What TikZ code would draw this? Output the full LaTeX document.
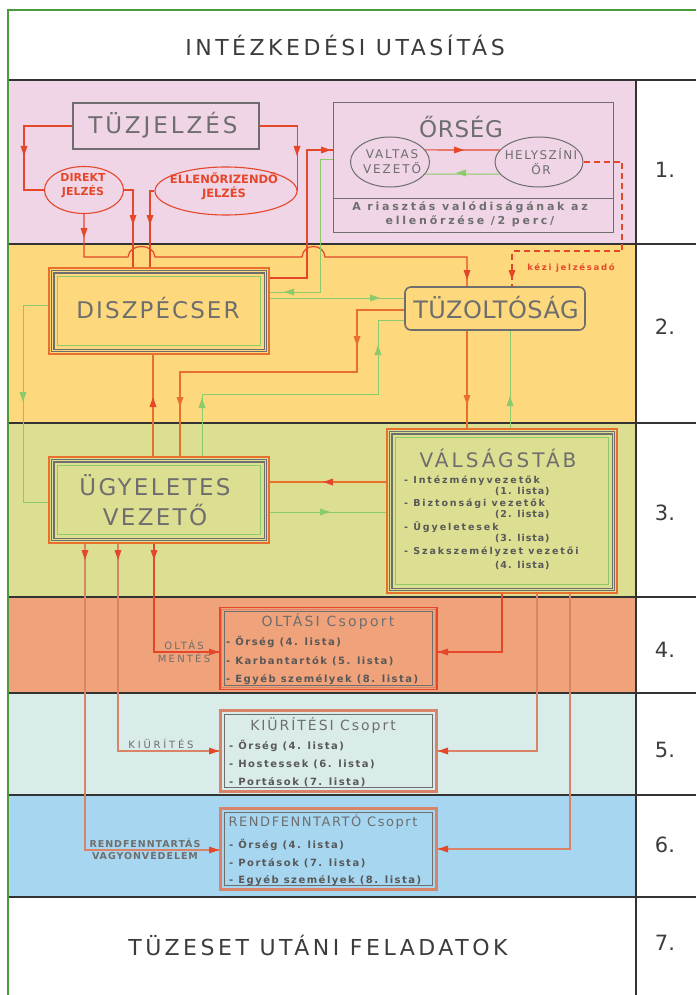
\documentclass[tikz,border=0pt]{standalone}
\usepackage{fontspec}
\setmainfont{DejaVu Sans}
\newfontfamily\cad{DejaVu Sans}
\usetikzlibrary{shapes.geometric}
\definecolor{pinkband}{HTML}{EFD5E6}
\definecolor{yelband}{HTML}{FDD87C}
\definecolor{oliveband}{HTML}{DCDE92}
\definecolor{orband}{HTML}{F0A27A}
\definecolor{cyband}{HTML}{D9ECEA}
\definecolor{blband}{HTML}{A6D6F0}
\definecolor{cadgray}{HTML}{6E6E6E}
\definecolor{hdrgray}{HTML}{3C3C3C}
\definecolor{lred}{HTML}{E5472B}
\definecolor{lorange}{HTML}{E8702C}
\definecolor{lgreen}{HTML}{8CCB6C}
\definecolor{lbrown}{HTML}{D98468}
\definecolor{framegreen}{HTML}{4C9A3C}
\definecolor{bandline}{HTML}{333333}
\newcommand\fsz[2]{\fontsize{#1}{#2}\selectfont}
\newcommand\ls[1]{\addfontfeatures{LetterSpace=#1}}
\newcommand\aD[3]{\fill[#1] (#2,#3) -- +(-3.5,-10) -- +(3.5,-10) -- cycle;}
\newcommand\aU[3]{\fill[#1] (#2,#3) -- +(-3.5,10) -- +(3.5,10) -- cycle;}
\newcommand\aR[3]{\fill[#1] (#2,#3) -- +(-10,-3.5) -- +(-10,3.5) -- cycle;}
\newcommand\aL[3]{\fill[#1] (#2,#3) -- +(10,-3.5) -- +(10,3.5) -- cycle;}
\newcommand\inset[3]{\draw[#3] ([shift={(#2,#2)}]#1.north west) rectangle ([shift={(-#2,-#2)}]#1.south east);}
\newcommand\tribox[1]{\inset{#1}{3}{draw=cadgray,line width=1.2}\inset{#1}{5.5}{draw=cadgray,line width=1.2}\inset{#1}{9.5}{draw=lgreen,line width=1}}
\newcommand\grpbox[1]{\inset{#1}{2.5}{draw=lbrown,line width=0.8}\inset{#1}{5}{draw=cadgray,line width=1}}
\begin{document}
\begin{tikzpicture}[x=1pt,y=-1pt,
  redl/.style={draw=lred,line width=1.2},
  orl/.style={draw=lorange,line width=1.2},
  grl/.style={draw=lgreen,line width=1},
  brl/.style={draw=lbrown,line width=1.1},
  cadt/.style={text=cadgray,inner sep=0},
  redt/.style={text=lred,inner sep=0,font=\cad\bfseries\fsz{11}{14},align=center},
  outbox/.style={draw=lorange,line width=1.2,inner sep=0},
  gbox/.style={draw=lred,line width=1.3,inner sep=0,minimum width=217,minimum height=82},
  itemt/.style={text=cadgray!80!black,inner sep=0,anchor=west,font=\cad\bfseries\fsz{10}{10}\ls{15}},
  vitem/.style={text=cadgray!80!black,inner sep=0,anchor=west,font=\cad\bfseries\fsz{9.5}{9.5}\ls{20}},
  vitemb/.style={text=cadgray!80!black,inner sep=0,anchor=west,font=\cad\bfseries\fsz{9.5}{9.5}\ls{10}},
  numt/.style={text=hdrgray,inner sep=0,font=\cad\fsz{21}{21}},
  lblt/.style={text=cadgray,inner sep=0,align=center,font=\cad\fsz{10}{13}\ls{22}}]
\useasboundingbox (0,0) rectangle (696,995);
\fill[white] (0,0) rectangle (696,995);
% bands
\fill[pinkband] (8,80) rectangle (636,244);
\fill[yelband] (8,244) rectangle (636,423);
\fill[oliveband] (8,423) rectangle (636,597);
\fill[orband] (8,597) rectangle (636,693);
\fill[cyband] (8,693) rectangle (636,795);
\fill[blband] (8,795) rectangle (636,897);
\foreach \yy in {80,244,423,597,693,795,897} {\draw[bandline,line width=1.3] (8,\yy) -- (696,\yy);}
\draw[bandline,line width=1.3] (636,80) -- (636,995);
\draw[framegreen,line width=1.5] (8,995) -- (8,10) -- (696,10);
% header / footer / numbers
\node[text=hdrgray,inner sep=0,font=\cad\fsz{22}{22}\ls{16}] (header) at (345,45) {INTÉZKEDÉSI UTASÍTÁS};
\node[text=hdrgray,inner sep=0,font=\cad\fsz{22}{22}\ls{16}] (footer) at (318,945) {TÜZESET UTÁNI FELADATOK};
\node[numt] (n1) at (665,170) {1.};
\node[numt] (n2) at (665,327) {2.};
\node[numt] (n3) at (665,513) {3.};
\node[numt] (n4) at (665,650) {4.};
\node[numt] (n5) at (665,750) {5.};
\node[numt] (n6) at (665,845) {6.};
\node[numt] (n7) at (665,943) {7.};
% ---- band 1
\node[draw=cadgray,line width=2,minimum width=186,minimum height=46,inner sep=0] (tuzjelzes) at (166,126) {};
\node[cadt,font=\cad\fsz{23}{23}\ls{13}] (tuzjelzesT) at (163,125) {TÜZJELZÉS};
\node[ellipse,draw=lred,line width=1.1,minimum width=79,minimum height=47,inner sep=0] (direkt) at (84,190) {};
\node[redt] (direktT) at (83,186) {DIREKT\\JELZÉS};
\node[ellipse,draw=lred,line width=1.1,minimum width=142,minimum height=48,inner sep=0] (ellen) at (226,191) {};
\node[redt,font=\cad\bfseries\fsz{11.5}{14}] (ellenT) at (224,186) {ELLENŐRIZENDŐ\\JELZÉS};
\node[draw=cadgray,line width=1,minimum width=280,minimum height=129,inner sep=0] (orseg) at (473,167.5) {};
\draw[cadgray,line width=1] (orseg.west |- 0,198) -- (orseg.east |- 0,198);
\node[cadt,font=\cad\fsz{23}{23}\ls{3}] (orsegT) at (461,127) {ŐRSÉG};
\node[ellipse,draw=cadgray,line width=1,minimum width=79,minimum height=50,inner sep=0] (valtas) at (390,162) {};
\node[cadt,align=center,font=\cad\fsz{12}{15}\ls{16}] (valtasT) at (392,162) {VALTAS\\VEZETŐ};
\node[ellipse,draw=cadgray,line width=1,minimum width=88,minimum height=50,inner sep=0] (helyszini) at (539,162) {};
\node[cadt,align=center,font=\cad\fsz{12}{15}\ls{12}] (helyszT) at (541,162) {HELYSZÍNI\\ŐR};
\node[cadt,align=center,font=\cad\bfseries\fsz{11}{14}\ls{25}] (orsegN) at (470,214) {A riasztás valódiságának az\\ellenőrzése /2 perc/};
% ---- band 2
\node[outbox,minimum width=220,minimum height=86] (diszp) at (159,311) {};
\tribox{diszp}
\node[cadt,font=\cad\fsz{23}{23}\ls{9}] (diszpT) at (158,308) {DISZPÉCSER};
\node[draw=cadgray,line width=1.6,rounded corners=6,minimum width=180,minimum height=43,inner sep=0] (tuzolt) at (495,308.5) {};
\node[cadt,font=\cad\fsz{24}{24}\ls{2}] (tuzoltT) at (496,308) {TÜZOLTÓSÁG};
\node[text=lred,inner sep=0,font=\cad\bfseries\fsz{8.5}{8.5}\ls{20}] (kezi) at (571,268) {kézi jelzésadó};
% ---- band 3
\node[outbox,minimum width=220,minimum height=86] (ugy) at (159,500) {};
\tribox{ugy}
\node[cadt,align=center,font=\cad\fsz{23}{30}\ls{10}] (ugyT) at (155,500) {ÜGYELETES\\VEZETŐ};
\node[outbox,minimum width=230,minimum height=164] (valsag) at (502,511) {};
\tribox{valsag}
\node[cadt,font=\cad\fsz{20}{20}\ls{15}] (valsagT) at (498,458) {VÁLSÁGSTÁB};
\node[vitem] (v1) at (404,481) {- Intézményvezetők};
\node[vitemb] (v1b) at (495,492) {(1. lista)};
\node[vitem] (v2) at (404,504) {- Biztonsági vezetők};
\node[vitemb] (v2b) at (495,515) {(2. lista)};
\node[vitem] (v3) at (404,527) {- Ügyeletesek};
\node[vitemb] (v3b) at (495,539) {(3. lista)};
\node[vitem] (v4) at (404,552) {- Szakszemélyzet vezetői};
\node[vitemb] (v4b) at (495,566) {(4. lista)};
% ---- band 4-6 groups
\node[gbox] (oltasi) at (328.5,648.5) {};
\grpbox{oltasi}
\node[cadt,font=\cad\fsz{14}{14}\ls{16}] (oltasiT) at (328,621) {OLTÁSI Csoport};
\node[itemt] (o1) at (226,642) {- Őrség (4. lista)};
\node[itemt] (o2) at (226,661) {- Karbantartók (5. lista)};
\node[itemt] (o3) at (226,680) {- Egyéb személyek (8. lista)};
\node[gbox,draw=lbrown] (kiur) at (328.5,751) {};
\grpbox{kiur}
\node[cadt,font=\cad\fsz{14}{14}\ls{14}] (kiurT) at (323,725) {KIÜRÍTÉSI Csoprt};
\node[itemt] (k1) at (229,746) {- Őrség (4. lista)};
\node[itemt] (k2) at (229,764) {- Hostessek (6. lista)};
\node[itemt] (k3) at (229,782) {- Portások (7. lista)};
\node[gbox,draw=lbrown] (rend) at (328.5,849) {};
\grpbox{rend}
\node[cadt,font=\cad\fsz{13}{13}\ls{12}] (rendT) at (323,822) {RENDFENNTARTÓ Csoprt};
\node[itemt] (r1) at (229,845) {- Őrség (4. lista)};
\node[itemt] (r2) at (229,863) {- Portások (7. lista)};
\node[itemt] (r3) at (229,881) {- Egyéb személyek (8. lista)};
\node[lblt] (oltasL) at (184,651) {OLTÁS\\MENTÉS};
\node[lblt,font=\cad\fsz{10}{13}\ls{28}] (kiurL) at (161,744) {KIÜRÍTÉS};
\node[lblt,font=\cad\bfseries\fsz{9.5}{12}\ls{10}] (rendL) at (145,849) {RENDFENNTARTÁS\\VAGYONVÉDELEM};
% ---- connectors band 1
\draw[redl] (tuzjelzes.west) -| (24,190) -- (direkt.west);
\aD{lred}{24}{156}
\draw[redl] (tuzjelzes.east) -| (ellen.east);
\aD{lred}{297}{156}
\draw[redl] (direkt.east) -| (diszp.north -| 133,0);
\aD{lred}{133}{225}
\draw[redl] (ellen.west) -| (diszp.north -| 150,0);
\aD{lred}{150}{225}
\draw[redl] (direkt.south) -- (84,257) -- (128,257) .. controls (129,243) and (154,243) .. (155,257) -- (302,257) .. controls (303,243) and (324,243) .. (325,257) -| (tuzolt.north -| 467,0);
\aD{lred}{84}{238}
\aD{lred}{467}{280}
\draw[redl,dash pattern=on 6pt off 4pt] (helyszini.east) -- (622,162) -- (622,251) -| (tuzolt.north -| 512,0);
\aD{lred}{512}{280}
\draw[redl] (valtas.19) -- (helyszini.163);
\aR{lred}{464}{150}
\draw[grl] (helyszini.197) -- (valtas.-19);
\aL{lgreen}{456}{173}
\draw[redl] (diszp.east |- 0,278) -| (307,150) -- (orseg.west |- 0,150);
\aR{lred}{331}{150}
\draw[grl] (orseg.west |- 0,160) -| (320,292) -- (diszp.east |- 0,292);
\aL{lgreen}{284}{292}
% ---- band 2/3
\draw[grl] (diszp.east |- 0,298) -- (tuzolt.west |- 0,298);
\aR{lgreen}{380}{298}
\draw[orl] (tuzolt.west |- 0,310) -| (357,372) -| (ugy.north -| 180,0);
\aD{lorange}{357}{346}
\aD{lorange}{180}{407}
\draw[grl] (ugy.north -| 202,0) |- (378,394) |- (tuzolt.west |- 0,320);
\aU{lgreen}{378}{345}
\aU{lgreen}{202}{398}
\draw[orl] (ugy.north -| 153,0) -- (diszp.south -| 153,0);
\aU{lred}{153}{397}
\draw[grl] (diszp.west |- 0,305) -| (23,502) -- (ugy.west |- 0,502);
\aD{lgreen}{23}{402}
\draw[orl] (tuzolt.south -| 467,0) -- (valsag.north -| 467,0);
\aD{lorange}{467}{405}
\draw[grl] (valsag.north -| 510,0) -- (tuzolt.south -| 510,0);
\aU{lgreen}{510}{396}
\draw[orl] (valsag.west |- 0,482) -- (ugy.east |- 0,482);
\aL{lred}{323}{482}
\draw[grl] (ugy.east |- 0,512) -- (valsag.west |- 0,512);
\aR{lgreen}{330}{512}
% ---- to groups
\draw[redl] (ugy.south -| 154,0) |- (oltasi.west |- 0,652);
\aD{lred}{154}{560}
\aR{lred}{219}{652}
\draw[brl] (ugy.south -| 118,0) |- (kiur.west |- 0,751);
\aD{lred}{118}{560}
\aR{lred}{219}{751}
\draw[brl] (ugy.south -| 85,0) |- (rend.west |- 0,850);
\aD{lred}{85}{560}
\aR{lred}{219}{850}
\draw[redl] (valsag.south -| 502,0) |- (oltasi.east |- 0,652);
\aL{lred}{438}{652}
\draw[brl] (valsag.south -| 537,0) |- (kiur.east |- 0,751);
\aL{lred}{438}{751}
\draw[brl] (valsag.south -| 570,0) |- (rend.east |- 0,849);
\aL{lred}{438}{849}
\end{tikzpicture}
\end{document}
